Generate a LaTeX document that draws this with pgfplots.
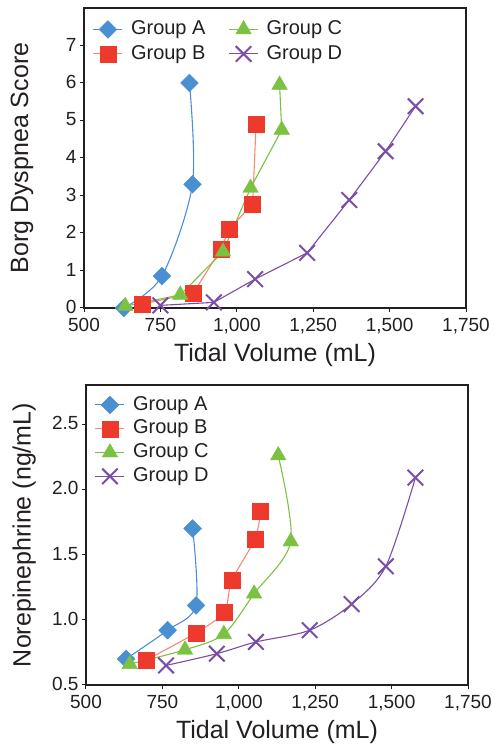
\documentclass[border=0pt]{standalone}
\usepackage{fontspec}
\setmainfont{Liberation Sans}
\usepackage{pgfplots}
\pgfplotsset{compat=1.18}

\definecolor{cA}{HTML}{4A8FD2}
\definecolor{cB}{HTML}{EE3A2C}
\definecolor{cBl}{HTML}{F58A70}
\definecolor{cC}{HTML}{7CC242}
\definecolor{cD}{HTML}{7A4EA8}
\definecolor{txt}{HTML}{231F20}

\pgfplotsset{
  mystyle/.style={
    scale only axis, width=382pt, height=300pt,
    xmin=500, xmax=1750, xtick={500,750,1000,1250,1500,1750},
    axis line style={line width=1.4pt, txt},
    tick align=outside, tick pos=left, major tick length=4pt,
    tick style={line width=1pt, txt},
    /pgf/number format/assume math mode=true,
    scaled x ticks=false,
    x tick label style={/pgf/number format/1000 sep={,}, yshift=-2.5pt},
    y tick label style={yshift=1pt},
    ticklabel style={font=\fontsize{19}{21}\selectfont, text=txt},
    label style={font=\fontsize{25}{29}\selectfont, text=txt},
    xlabel style={at={(axis description cs:0.5,-0.157)}, anchor=center},
    ylabel style={at={(axis description cs:-0.162,0.5)}, anchor=center},
    legend style={draw=none, fill=none, font=\fontsize{20}{23}\selectfont, text=txt,
      nodes={inner sep=1pt, text height=14.5pt, text depth=4pt},
      /tikz/every odd column/.append style={column sep=7pt},
      /tikz/every even column/.append style={column sep=22pt}},
    legend cell align=left,
    legend image code/.code={\draw[mark repeat=2,mark phase=2] plot coordinates {(0pt,0pt)(14.5pt,0pt)(29pt,0pt)};},
    xlabel={Tidal Volume (mL)},
  },
  sA/.style={color=cA, line width=1.1pt, mark=square*, mark size=6.3pt, mark options={rotate=45, fill=cA, draw=cA, line width=0.4pt}},
  sB/.style={color=cBl, line width=1.1pt, mark=square*, mark size=8pt, mark options={fill=cB, draw=cB, line width=0.4pt}},
  sC/.style={color=cC, line width=1.1pt, mark=triangle*, mark size=9pt, mark options={fill=cC, draw=cC, line width=0.4pt}},
  sD/.style={color=cD, line width=1.1pt, mark=x, mark size=11pt, mark options={draw=cD, line width=2pt}},
}

\begin{document}
\begin{tikzpicture}
\path[use as bounding box] (0,0) rectangle (493pt,746pt);

\begin{axis}[mystyle,
  at={(84pt,438pt)}, anchor=south west,
  ymin=0, ymax=8, ytick={0,1,2,3,4,5,6,7},
  ylabel={Borg Dyspnea Score},
  legend columns=2, transpose legend,
  legend style={at={(axis description cs:0.015,0.97)}, anchor=north west, row sep=4pt},
]
\addplot[sA, smooth] coordinates {(630,0) (755,0.85) (855,3.3) (845,6.0)};
\addlegendentry{Group A}
\addplot[sB] coordinates {(690,0.1) (858,0.4) (948,1.57) (975,2.1) (1052,2.78) (1063,4.9)};
\addlegendentry{Group B}
\addplot[sC] coordinates {(635,0.05) (815,0.35) (955,1.5) (1045,3.2) (1147,4.75) (1140,5.95)};
\addlegendentry{Group C}
\addplot[sD] coordinates {(750,0.07) (925,0.15) (1060,0.77) (1230,1.47) (1368,2.88) (1487,4.18) (1585,5.38)};
\addlegendentry{Group D}
\end{axis}

\begin{axis}[mystyle,
  at={(86pt,61pt)}, anchor=south west,
  ymin=0.5, ymax=2.8, ytick={0.5,1.0,1.5,2.0,2.5},
  yticklabel style={/pgf/number format/.cd, fixed, fixed zerofill, precision=1},
  ylabel={Norepinephrine (ng/mL)},
  legend style={at={(axis description cs:0.015,0.975)}, anchor=north west, row sep=3.3pt},
]
\addplot[sA, smooth] coordinates {(631,0.70) (767,0.92) (860,1.11) (849,1.70)};
\addlegendentry{Group A}
\addplot[sB, smooth] coordinates {(696,0.69) (860,0.90) (952,1.06) (977,1.30) (1053,1.62) (1071,1.83)};
\addlegendentry{Group B}
\addplot[sC, smooth] coordinates {(643,0.66) (824,0.77) (951,0.89) (1050,1.20) (1170,1.60) (1129,2.26)};
\addlegendentry{Group C}
\addplot[sD, smooth] coordinates {(762,0.65) (928,0.74) (1056,0.83) (1232,0.92) (1369,1.12) (1481,1.41) (1578,2.09)};
\addlegendentry{Group D}
\end{axis}
\end{tikzpicture}
\end{document}
